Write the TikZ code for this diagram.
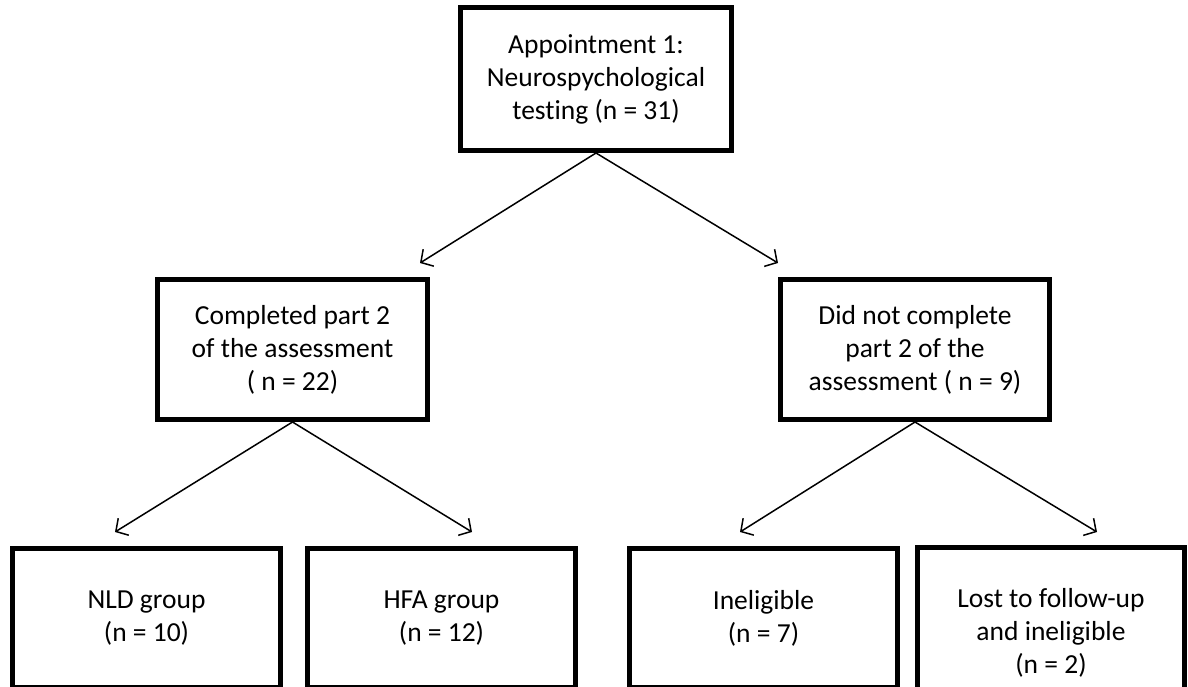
\documentclass[tikz,border=0pt]{standalone}
\usepackage{fontspec}
\setmainfont[Ligatures=NoCommon]{Carlito}
\usetikzlibrary{arrows.meta}
\begin{document}
\begin{tikzpicture}[x=1pt,y=-1pt,
  box/.style={draw=black, line width=5pt, fill=white, align=center, inner sep=0pt,
    font=\fontsize{27.5}{33}\selectfont},
  conn/.style={draw=black, line width=1.5pt, -{Straight Barb[length=9pt,width=20pt,line width=1.5pt]}}
]
\useasboundingbox (0,0) rectangle (1188,687);
\clip (0,0) rectangle (1188,687);
% top
\node[box, minimum width=271pt, minimum height=143pt] (top) at (596,79)
  {Appointment 1:\\Neurospychological\\testing (n = 31)};
% middle
\node[box, minimum width=270pt, minimum height=140pt] (comp) at (292.5,349.5)
  {Completed part 2\\of the assessment\\( n = 22)};
\node[box, minimum width=269pt, minimum height=140pt] (notc) at (915,349.5)
  {Did not complete\\part 2 of the\\assessment ( n = 9)};
% bottom
\node[box, minimum width=268pt, minimum height=139pt] (nld) at (146.5,618)
  {NLD group\\(n = 10)};
\node[box, minimum width=268pt, minimum height=139pt] (hfa) at (441.5,618)
  {HFA group\\(n = 12)};
\node[box, minimum width=268pt, minimum height=139pt] (inel) at (763.5,618)
  {Ineligible\\(n = 7)};
\node[box, minimum width=267pt, minimum height=171pt] (lost) at (1051,633)
  {Lost to follow-up\\and ineligible\\(n = 2)};
% arrow end points
\coordinate (t1) at (420,263);
\coordinate (t2) at (778,263);
\coordinate (c1) at (115,532);
\coordinate (c2) at (472,532);
\coordinate (n1) at (740,532);
\coordinate (n2) at (1097,532);
\draw[conn] (top.south) -- (t1);
\draw[conn] (top.south) -- (t2);
\draw[conn] (comp.south) -- (c1);
\draw[conn] (comp.south) -- (c2);
\draw[conn] (notc.south) -- (n1);
\draw[conn] (notc.south) -- (n2);
\end{tikzpicture}
\end{document}
